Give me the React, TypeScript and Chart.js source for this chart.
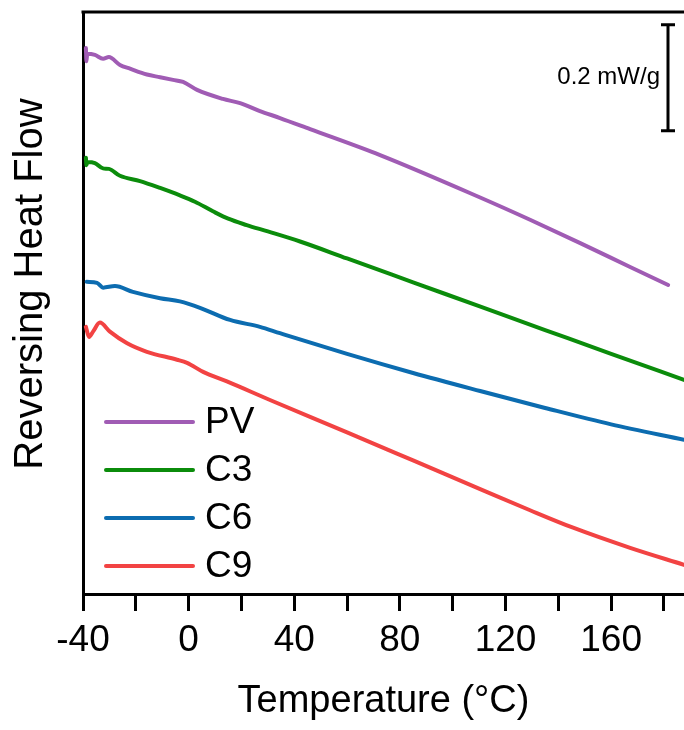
import React, { useEffect, useRef } from "react";
import { Chart, registerables } from "chart.js";

Chart.register(...registerables);

// ---- Data (temperature in °C, reversing heat flow in mW/g, offset per curve) ----
const pvTemp = [-38.9, -38.7, -38.4, -35.5, -32.4, -30.2, -26, -22.2, -15.8, -10.8, -5.9, -2.1, 3.2, 13, 19.5, 27, 34.6, 46, 72.5, 110.4, 129.3, 148.3, 167.2, 181.6];
const pvFlow = [1.030, 1.005, 1.019, 1.017, 1.010, 1.013, 0.998, 0.991, 0.980, 0.975, 0.970, 0.966, 0.951, 0.934, 0.926, 0.911, 0.898, 0.877, 0.828, 0.748, 0.706, 0.662, 0.617, 0.583];

const c3Temp = [-38.9, -38.7, -38.3, -35.5, -32.4, -30.2, -26, -18.4, -10.8, -3.3, 2.4, 9.2, 15, 22, 30, 42.2, 60, 85, 110, 135, 160, 187.6];
const c3Flow = [0.823, 0.809, 0.815, 0.813, 0.803, 0.802, 0.789, 0.779, 0.766, 0.752, 0.740, 0.722, 0.708, 0.696, 0.684, 0.665, 0.633, 0.588, 0.543, 0.498, 0.453, 0.404];

const c6Temp = [-38.6, -34.7, -32.4, -27.9, -21.1, -10.8, -3.3, 4.3, 15.7, 27, 34.6, 60, 85, 110.4, 135, 160, 187.6];
const c6Flow = [0.589, 0.587, 0.578, 0.581, 0.570, 0.558, 0.552, 0.540, 0.517, 0.504, 0.492, 0.453, 0.417, 0.383, 0.351, 0.320, 0.291];

const c9Temp = [-38.9, -37.7, -36.2, -33.6, -29.8, -23.3, -15.8, -4.4, -0.6, 5.5, 14.5, 30.8, 60, 85, 110.4, 129.3, 145.6, 167.2, 187.6];
const c9Flow = [0.504, 0.485, 0.495, 0.512, 0.495, 0.473, 0.457, 0.442, 0.436, 0.419, 0.401, 0.366, 0.305, 0.252, 0.198, 0.158, 0.125, 0.087, 0.055];

const seriesNames = ["PV", "C3", "C6", "C9"];
const seriesColors = ["#A05CB4", "#0B8C0B", "#0C6CB0", "#F24343"];

const xMin = -40;
const xMax = 187.6;
const xStep = 20;
const xLabelStep = 40;
const yMin = 0;
const yMax = 1.098;

const scaleBarTemp = 181.6;
const scaleBarTop = 1.074;
const scaleBarSize = 0.2;
const scaleBarLabel = "0.2 mW/g";

const xTitle = "Temperature (\u00B0C)";
const yTitle = "Reversing Heat Flow";

const FONT = "'Liberation Sans', Arial, Helvetica, sans-serif";

function toPoints(xs: number[], ys: number[]) {
  return xs.map((x, i) => ({ x, y: ys[i] }));
}

const framePlugin = {
  id: "frameAndExtras",
  afterDraw(chart: any) {
    const { ctx, chartArea, scales } = chart;
    const xs = scales.x;
    const ys = scales.y;
    ctx.save();
    // top frame line
    ctx.strokeStyle = "#000";
    ctx.lineWidth = 3;
    ctx.beginPath();
    ctx.moveTo(chartArea.left - 1.5, chartArea.top);
    ctx.lineTo(chartArea.right, chartArea.top);
    ctx.stroke();

    // scale bar
    const bx = Math.round(xs.getPixelForValue(scaleBarTemp));
    const bTop = ys.getPixelForValue(scaleBarTop);
    const bBot = ys.getPixelForValue(scaleBarTop - scaleBarSize);
    ctx.lineWidth = 3;
    ctx.beginPath();
    ctx.moveTo(bx, bTop);
    ctx.lineTo(bx, bBot);
    ctx.moveTo(bx - 7, bTop);
    ctx.lineTo(bx + 7, bTop);
    ctx.moveTo(bx - 7, bBot);
    ctx.lineTo(bx + 7, bBot);
    ctx.stroke();
    ctx.fillStyle = "#000";
    ctx.font = `24px ${FONT}`;
    ctx.textAlign = "right";
    ctx.textBaseline = "middle";
    ctx.fillText(scaleBarLabel, bx - 8, (bTop + bBot) / 2);

    // legend
    const ds = chart.data.datasets;
    const rowGap = 48;
    const firstY = chartArea.bottom - 172;
    ctx.font = `37px ${FONT}`;
    ctx.textAlign = "left";
    ds.forEach((d: any, i: number) => {
      const y = firstY + i * rowGap;
      ctx.strokeStyle = d.borderColor;
      ctx.lineWidth = 4;
      ctx.lineCap = "round";
      ctx.beginPath();
      ctx.moveTo(chartArea.left + 23, y);
      ctx.lineTo(chartArea.left + 110, y);
      ctx.stroke();
      ctx.fillStyle = "#000";
      ctx.fillText(d.label, chartArea.left + 122, y + 1);
    });

    // y axis title
    ctx.translate(31, 284);
    ctx.rotate(-Math.PI / 2);
    ctx.font = `40px ${FONT}`;
    ctx.textAlign = "center";
    ctx.textBaseline = "middle";
    ctx.fillStyle = "#000";
    ctx.fillText(yTitle, 0, 0);
    ctx.restore();
  },
};

export default function App() {
  const ref = useRef<HTMLCanvasElement | null>(null);

  useEffect(() => {
    if (!ref.current) return;
    const temps = [pvTemp, c3Temp, c6Temp, c9Temp];
    const flows = [pvFlow, c3Flow, c6Flow, c9Flow];
    const chart = new Chart(ref.current, {
      type: "line",
      data: {
        datasets: seriesNames.map((name, i) => ({
          label: name,
          data: toPoints(temps[i], flows[i]),
          borderColor: seriesColors[i],
          backgroundColor: seriesColors[i],
          borderWidth: 4,
          pointRadius: 0,
          cubicInterpolationMode: "monotone" as const,
          borderCapStyle: "round" as const,
          fill: false,
        })),
      },
      options: {
        responsive: false,
        animation: false,
        events: [],
        layout: { padding: { top: 12, right: 0, left: 0, bottom: 0 } },
        plugins: {
          legend: { display: false },
          tooltip: { enabled: false },
        },
        scales: {
          x: {
            type: "linear",
            min: xMin,
            max: xMax,
            afterFit: (s: any) => {
              s.height = 136;
            },
            afterBuildTicks: (s: any) => {
              s.ticks = s.ticks.filter((t: any) => Math.abs(t.value / xStep - Math.round(t.value / xStep)) < 1e-6);
            },
            ticks: {
              stepSize: xStep,
              includeBounds: false,
              autoSkip: false,
              maxRotation: 0,
              minRotation: 0,
              padding: 8,
              color: "#000",
              font: { family: FONT, size: 37 },
              callback: (v: any) => {
                const n = Number(v);
                return Math.abs((n - xMin) % xLabelStep) < 1e-6 ? String(n) : "";
              },
            },
            grid: {
              display: true,
              drawOnChartArea: false,
              drawTicks: true,
              tickLength: 17,
              color: "#000",
              lineWidth: 3,
            },
            border: { display: true, color: "#000", width: 3 },
            title: {
              display: true,
              text: xTitle,
              color: "#000",
              font: { family: FONT, size: 38 },
              padding: { top: 0, bottom: 6 },
            },
          },
          y: {
            type: "linear",
            min: yMin,
            max: yMax,
            afterFit: (s: any) => {
              s.width = 83;
            },
            ticks: { display: false },
            grid: { display: false, drawTicks: false },
            border: { display: true, color: "#000", width: 3 },
          },
        },
      },
      plugins: [framePlugin],
    });
    return () => chart.destroy();
  }, []);

  return (
    <div style={{ position: "fixed", left: 0, top: 0, width: 684, height: 730, background: "#fff" }}>
      <canvas ref={ref} width={684} height={730} style={{ display: "block" }} />
    </div>
  );
}
